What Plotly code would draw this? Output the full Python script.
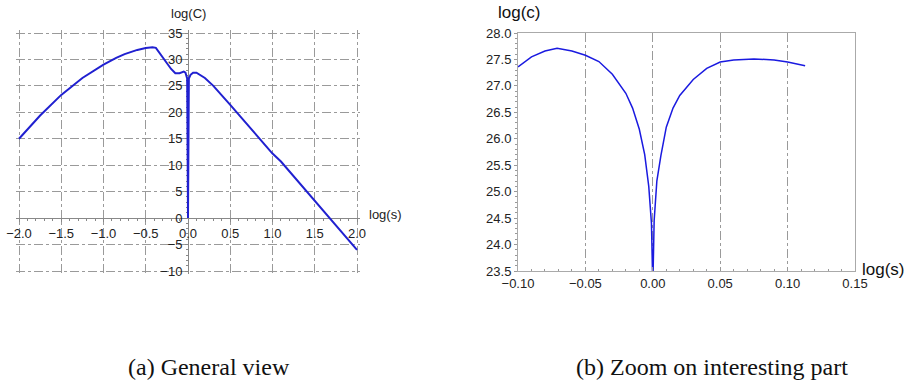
import plotly.graph_objects as go

# ---------- data: (a) general view ----------
s_left = [-2.0, -1.75, -1.5, -1.25, -1.0, -0.85, -0.75, -0.6, -0.5, -0.42, -0.38,
          -0.3, -0.2, -0.15, -0.1, -0.05, -0.03, -0.01, 0.0, 0.01, 0.03, 0.06, 0.1,
          0.2, 0.3, 0.5, 0.75, 1.0, 1.1, 1.25, 1.4, 1.5, 1.66, 1.8, 2.0]
c_left = [15.0, 19.4, 23.3, 26.5, 29.0, 30.3, 31.0, 31.8, 32.15, 32.3, 32.2,
          30.4, 28.2, 27.4, 27.4, 27.7, 27.5, 26.4, 0.0, 26.4, 27.1, 27.5, 27.5,
          26.5, 25.0, 21.4, 16.8, 12.2, 10.7, 7.9, 5.1, 3.2, 0.2, -2.4, -6.0]

# ---------- data: (b) zoom on interesting part ----------
s_right = [-0.100, -0.090, -0.080, -0.071, -0.060, -0.050, -0.040, -0.030, -0.020,
           -0.015, -0.010, -0.006, -0.003, -0.001, 0.0, 0.001, 0.003, 0.006, 0.010,
           0.015, 0.020, 0.030, 0.040, 0.050, 0.060, 0.075, 0.090, 0.100, 0.113]
c_right = [27.36, 27.55, 27.66, 27.71, 27.66, 27.58, 27.46, 27.22, 26.86,
           26.58, 26.18, 25.70, 25.10, 24.40, 23.20, 24.45, 25.20, 25.68, 26.22,
           26.58, 26.82, 27.12, 27.33, 27.45, 27.49, 27.51, 27.49, 27.45, 27.38]

left_xticks = [-2.0, -1.5, -1.0, -0.5, 0.0, 0.5, 1.0, 1.5, 2.0]
left_yticks = [-10, -5, 0, 5, 10, 15, 20, 25, 30, 35]
right_xticks = [-0.10, -0.05, 0.00, 0.05, 0.10, 0.15]
right_yticks = [23.5, 24.0, 24.5, 25.0, 25.5, 26.0, 26.5, 27.0, 27.5, 28.0]

W, H = 906, 383
def px(x): return x / W
def py(y): return (H - y) / H

# pixel frame of each plot (data extent), padded so edge gridlines survive
PAD = 3
L_X0, L_X1, T_Y, B_Y = 19, 357, 33, 271
R_X0, R_X1 = 518, 855
lxr = [-2.0, 2.0]; lyr = [-10.0, 35.0]
ux = (lxr[1] - lxr[0]) / (L_X1 - L_X0)
uy = (lyr[1] - lyr[0]) / (B_Y - T_Y)
lxr_p = [lxr[0] - PAD * ux, lxr[1] + PAD * ux]
lyr_p = [lyr[0] - PAD * uy, lyr[1] + PAD * uy]

dom_l = [px(L_X0 - PAD), px(L_X1 + PAD)]
dom_yl = [py(B_Y + PAD), py(T_Y - PAD)]
dom_r = [px(R_X0), px(R_X1)]
dom_yr = [py(B_Y), py(T_Y)]

sans = "Liberation Sans, Arial, sans-serif"
serif = "Liberation Serif, Times New Roman, serif"
tickfont = dict(family=sans, size=13, color="#222")
grid = "#9a9a9a"

fig = go.Figure()

fig.add_trace(go.Scatter(x=s_left, y=c_left, xaxis="x", yaxis="y", mode="lines",
                         line=dict(width=0), hoverinfo="skip", showlegend=False))
fig.add_trace(go.Scatter(x=s_left, y=c_left, xaxis="x3", yaxis="y3", mode="lines",
                         line=dict(color="#2020d0", width=2), hoverinfo="skip",
                         showlegend=False))
fig.add_trace(go.Scatter(x=s_right, y=c_right, xaxis="x2", yaxis="y2", mode="lines",
                         line=dict(color="#1a1ae0", width=1.5), hoverinfo="skip",
                         showlegend=False))

y0_paper = dom_yl[0] + (0 - lyr_p[0]) / (lyr_p[1] - lyr_p[0]) * (dom_yl[1] - dom_yl[0])
x0_paper = dom_l[0] + (0 - lxr_p[0]) / (lxr_p[1] - lxr_p[0]) * (dom_l[1] - dom_l[0])

fig.update_layout(
    template="none",
    width=W, height=H, margin=dict(l=0, r=0, t=0, b=0, pad=0), autosize=False,
    paper_bgcolor="white", plot_bgcolor="white", showlegend=False,
    xaxis=dict(domain=dom_l, anchor="y", range=lxr_p, tickvals=left_xticks,
               showticklabels=False, ticks="", showgrid=True, gridcolor=grid,
               griddash="dashdot", gridwidth=1, zeroline=False, showline=False,
               automargin=False),
    yaxis=dict(domain=dom_yl, anchor="x", range=lyr_p, tickvals=left_yticks,
               showticklabels=False, ticks="", showgrid=True, gridcolor=grid,
               griddash="dashdot", gridwidth=1, zeroline=False, showline=False,
               automargin=False),
    xaxis3=dict(overlaying="x", anchor="free", position=y0_paper, range=lxr_p,
                tickvals=left_xticks, tickformat=".1f", tickfont=tickfont,
                showline=True, linecolor="#888", linewidth=1, ticks="outside",
                ticklen=3, tickcolor="#888",
                minor=dict(dtick=0.1, ticks="outside", ticklen=2, tickcolor="#888"),
                showgrid=False, zeroline=False, layer="below traces", automargin=False),
    yaxis3=dict(overlaying="y", anchor="free", position=x0_paper, range=lyr_p,
                tickvals=left_yticks, tickfont=tickfont, side="left",
                showline=True, linecolor="#888", linewidth=1, ticks="outside",
                ticklen=3, tickcolor="#888",
                minor=dict(dtick=1, ticks="outside", ticklen=2, tickcolor="#888"),
                showgrid=False, zeroline=False, layer="below traces", automargin=False),
    xaxis2=dict(domain=dom_r, anchor="y2", range=[-0.1, 0.15], tickvals=right_xticks,
                tickformat=".2f", tickfont=tickfont, showline=True, mirror=True,
                linecolor="#aaa", linewidth=1, ticks="inside", ticklen=4,
                tickcolor="#999",
                minor=dict(dtick=0.01, ticks="inside", ticklen=2, tickcolor="#999"),
                showgrid=True, gridcolor=grid, griddash="dashdot", gridwidth=1,
                zeroline=False, automargin=False),
    yaxis2=dict(domain=dom_yr, anchor="x2", range=[23.5, 28.0], tickvals=right_yticks,
                tickformat=".1f", tickfont=tickfont, showline=True, mirror=True,
                linecolor="#aaa", linewidth=1, ticks="outside", ticklen=3,
                tickcolor="#999",
                minor=dict(dtick=0.1, ticks="outside", ticklen=2, tickcolor="#999"),
                showgrid=False, zeroline=False, automargin=False),
)

ann = [
    dict(text="log(C)", x=px(188), y=py(14), font=dict(family=sans, size=13, color="#222"),
         xanchor="center", yanchor="middle"),
    dict(text="log(s)", x=px(367), y=py(214), font=dict(family=sans, size=13, color="#222"),
         xanchor="left", yanchor="middle"),
    dict(text="log(c)", x=px(496), y=py(13), font=dict(family=sans, size=17, color="#111"),
         xanchor="left", yanchor="middle"),
    dict(text="log(s)", x=px(860), y=py(269), font=dict(family=sans, size=17, color="#111"),
         xanchor="left", yanchor="middle"),
    dict(text="(a) General view", x=px(209), y=py(367),
         font=dict(family=serif, size=24, color="#111"), xanchor="center", yanchor="middle"),
    dict(text="(b) Zoom on interesting part", x=px(712), y=py(367),
         font=dict(family=serif, size=24, color="#111"), xanchor="center", yanchor="middle"),
]
for a in ann:
    a.update(xref="paper", yref="paper", showarrow=False)
fig.update_layout(annotations=ann)

fig.write_html(
    "out.html",
    config={"displayModeBar": False},
    post_script="document.body.style.margin='0px';document.body.style.overflow='hidden';",
)
